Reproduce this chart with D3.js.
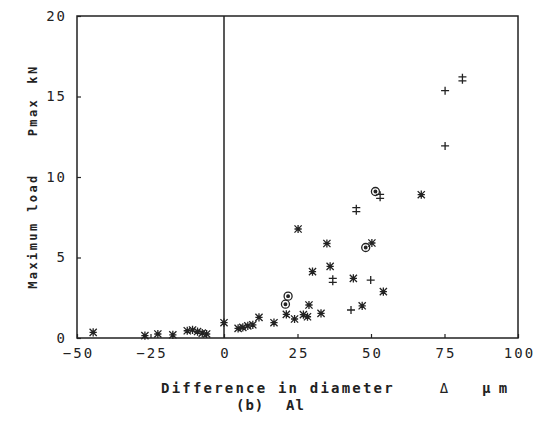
<!DOCTYPE html>
<html>
<head>
<meta charset="utf-8">
<script src="https://cdn.jsdelivr.net/npm/d3@7"></script>
<style>
  html, body { margin: 0; padding: 0; background: #fff; }
  svg { display: block; }
  text { fill: #222; font-family: "DejaVu Sans Mono", "Liberation Mono", monospace; }
</style>
</head>
<body>
<svg id="chart" width="544" height="421"></svg>
<script>
// Axis ticks
const xTicks = [-50, -25, 0, 25, 50, 75, 100];
const yTicks = [0, 5, 10, 15, 20];

// Asterisk markers
const starX = [-44.5, -26.9, -22.5, -17.4, -12.5, -10.7, -9.0, -7.4, -5.9,
               0.0, 4.8, 6.4, 8.1, 9.8, 11.9, 17.0, 21.2, 24.0, 25.2, 27.0, 28.4,
               28.9, 30.1, 33.0, 35.0, 36.1, 44.0, 47.0, 50.3, 54.2, 67.1];
const starY = [0.35, 0.15, 0.25, 0.2, 0.45, 0.5, 0.4, 0.3, 0.25,
               0.95, 0.6, 0.66, 0.75, 0.82, 1.28, 0.95, 1.47, 1.18, 6.77, 1.45, 1.32,
               2.05, 4.12, 1.53, 5.87, 4.45, 3.7, 2.0, 5.9, 2.88, 8.9];

// Plus markers
const plusX = [43.2, 49.9, 75.2, 75.2];
const plusY = [1.74, 3.6, 15.36, 11.93];

// Double-bar markers
const dbarX = [37.0, 45.0, 53.1, 81.1];
const dbarY = [3.58, 7.97, 8.8, 16.1];

// Circled markers
const circX = [21.8, 20.9, 48.2, 51.5];
const circY = [2.6, 2.1, 5.62, 9.1];

const svg = d3.select("#chart");
const ink = "#222";

const x = d3.scaleLinear().domain([-50, 100]).range([77, 518]);
const y = d3.scaleLinear().domain([0, 20]).range([338, 16]);

// Frame
svg.append("rect")
  .attr("x", x(-50)).attr("y", y(20))
  .attr("width", x(100) - x(-50)).attr("height", y(0) - y(20))
  .attr("fill", "none").attr("stroke", ink).attr("stroke-width", 1.5);

// Zero line
svg.append("line")
  .attr("x1", x(0)).attr("x2", x(0)).attr("y1", y(0)).attr("y2", y(20))
  .attr("stroke", ink).attr("stroke-width", 1.5);

// Bottom axis, ticks point inward
const xAxis = d3.axisBottom(x).tickValues(xTicks).tickSizeInner(-4).tickSizeOuter(0).tickPadding(10)
  .tickFormat(d3.format("d"));
const gx = svg.append("g").attr("transform", `translate(0,${y(0)})`).call(xAxis);
gx.select(".domain").remove();
gx.selectAll("line").attr("stroke", ink).attr("stroke-width", 1.2);
gx.selectAll("text").attr("font-size", 14).attr("letter-spacing", 2).attr("fill", ink)
  .attr("font-family", "DejaVu Sans Mono").attr("dx", 1);

// Left axis, ticks point inward
const yAxis = d3.axisLeft(y).tickValues(yTicks).tickSizeInner(-4).tickSizeOuter(0).tickPadding(10)
  .tickFormat(d3.format("d"));
const gy = svg.append("g").attr("transform", `translate(${x(-50)},0)`).call(yAxis);
gy.select(".domain").remove();
gy.selectAll("line").attr("stroke", ink).attr("stroke-width", 1.2);
gy.selectAll("text").attr("font-size", 14).attr("letter-spacing", 2).attr("fill", ink)
  .attr("font-family", "DejaVu Sans Mono");

// Markers
const g = svg.append("g").attr("stroke", ink).attr("stroke-width", 1.3).attr("fill", "none");

function star(px, py) {
  const s = 3.6;
  return `M${px - s},${py - s}L${px + s},${py + s}M${px + s},${py - s}L${px - s},${py + s}` +
         `M${px},${py - s - 0.5}L${px},${py + s + 0.5}M${px - s},${py}L${px + s},${py}`;
}
function plus(px, py) {
  const s = 4;
  return `M${px - s},${py}L${px + s},${py}M${px},${py - s}L${px},${py + s}`;
}
function dbar(px, py) {
  const s = 4;
  return `M${px},${py - s - 1}L${px},${py + s + 1}M${px - s},${py - 2}L${px + s},${py - 2}` +
         `M${px - s},${py + 2}L${px + s},${py + 2}`;
}

g.selectAll("path.star").data(d3.range(starX.length)).join("path").attr("class", "star")
  .attr("d", i => star(x(starX[i]), y(starY[i])));
g.selectAll("path.plus").data(d3.range(plusX.length)).join("path").attr("class", "plus")
  .attr("d", i => plus(x(plusX[i]), y(plusY[i])));
g.selectAll("path.dbar").data(d3.range(dbarX.length)).join("path").attr("class", "dbar")
  .attr("d", i => dbar(x(dbarX[i]), y(dbarY[i])));
g.selectAll("circle.circ").data(d3.range(circX.length)).join("circle").attr("class", "circ")
  .attr("cx", i => x(circX[i])).attr("cy", i => y(circY[i])).attr("r", 4);
g.selectAll("circle.dot").data(d3.range(circX.length)).join("circle").attr("class", "dot")
  .attr("cx", i => x(circX[i])).attr("cy", i => y(circY[i])).attr("r", 1.3).attr("fill", ink);

// Axis titles
svg.append("text").attr("x", 161).attr("y", 393)
  .attr("font-size", 14).attr("letter-spacing", 2.2).attr("font-weight", "bold")
  .text("Difference in diameter");
svg.append("text").attr("x", 444).attr("y", 393).attr("text-anchor", "middle")
  .attr("font-size", 14).attr("font-family", "Noto Sans CJK JP").text("Δ");
svg.append("text").attr("x", 482).attr("y", 393)
  .attr("font-size", 14).attr("font-family", "Noto Sans CJK JP").attr("font-weight", "bold").text("μ m");
svg.append("text").attr("x", 236).attr("y", 410)
  .attr("font-size", 14).attr("letter-spacing", 1).attr("font-weight", "bold").text("(b)");
svg.append("text").attr("x", 286).attr("y", 410)
  .attr("font-size", 14).attr("letter-spacing", 1).attr("font-weight", "bold").text("Al");

const yl = svg.append("g").attr("transform", "translate(37,0) rotate(-90)");
yl.append("text").attr("x", -231).attr("y", 0).attr("text-anchor", "middle")
  .attr("font-size", 12).attr("letter-spacing", 2.4).attr("font-weight", "bold").text("Maximum load");
yl.append("text").attr("x", -117).attr("y", 0).attr("text-anchor", "middle")
  .attr("font-size", 12).attr("letter-spacing", 2.4).attr("font-weight", "bold").text("Pmax");
yl.append("text").attr("x", -74).attr("y", 0).attr("text-anchor", "middle")
  .attr("font-size", 12).attr("letter-spacing", 2.4).attr("font-weight", "bold").text("kN");
</script>
</body>
</html>
